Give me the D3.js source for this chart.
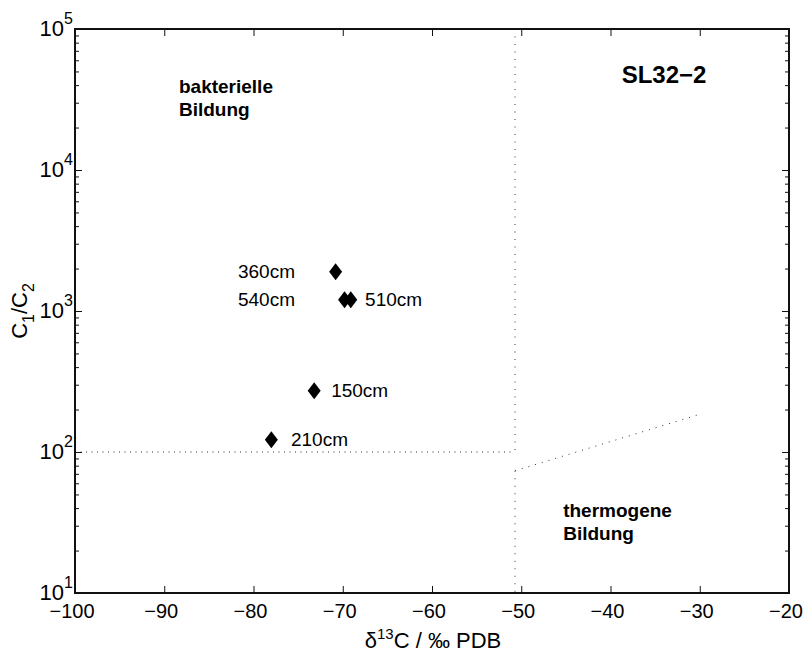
<!DOCTYPE html>
<html>
<head>
<meta charset="utf-8">
<script src="https://cdn.jsdelivr.net/npm/d3@7"></script>
<style>
  html, body { margin: 0; padding: 0; background: #fff; }
  svg { display: block; font-family: "Liberation Sans", Arial, Helvetica, sans-serif; }
</style>
</head>
<body>
<svg id="chart" width="803" height="652"></svg>
<script>
// ---- data ----
const xTickValues = [-100, -90, -80, -70, -60, -50, -40, -30, -20];
const yTickExponents = [1, 2, 3, 4, 5];
const depthLabels = ["360cm", "540cm", "510cm", "150cm", "210cm"];
const delta13C = [-70.8, -69.8, -69.1, -73.2, -78.0];
const c1c2Ratio = [1900, 1200, 1200, 272, 122];
const labelXValues = [-75.35, -75.35, -67.5, -71.3, -75.8];
const labelAnchors = ["end", "end", "start", "start", "start"];
// boundary lines (data coords)
const boundaryLines = [
  [[-50.7, 1e5], [-50.7, 100]],
  [[-100, 100], [-50.7, 100]],
  [[-50.7, 73.6], [-50.7, 10]],
  [[-50.7, 73.6], [-29.9, 186]]
];
const regionTexts = [
  { lines: ["bakterielle", "Bildung"], x: -88.35, y: 35000, size: 19 },
  { lines: ["thermogene", "Bildung"], x: -45.3, y: 34.8, size: 19 },
  { lines: ["SL32\u22122"], x: -38.75, y: 41200, size: 24 }
];

(function () {
// ---- layout ----
const svg = d3.select("#chart");
const mLeft = 75, mRight = 789, mTop = 29, mBottom = 593;
const x = d3.scaleLinear().domain([-100, -20]).range([mLeft, mRight]);
const y = d3.scaleLog().domain([10, 1e5]).range([mBottom, mTop]);

// dotted boundary lines
const lineGen = d3.line().x(d => x(d[0])).y(d => y(d[1]));
svg.append("g").selectAll("path").data(boundaryLines).join("path")
  .attr("d", lineGen)
  .attr("fill", "none")
  .attr("stroke", "#333")
  .attr("stroke-width", 1)
  .attr("stroke-dasharray", (d, i) => i === 1 ? "1,4.5" : (i === 3 ? "1,6" : "1,6.5"));

// axes (ticks inward, box)
const axisColor = "#111";
const minorTicks = [];
yTickExponents.slice(0, -1).forEach(e => {
  for (let k = 2; k <= 9; k++) minorTicks.push(k * Math.pow(10, e));
});
const majorY = yTickExponents.map(e => Math.pow(10, e));

const gAx = svg.append("g");
function styleAxis(g) {
  g.select(".domain").remove();
  g.selectAll(".tick line").attr("stroke", axisColor).attr("stroke-width", 1);
  g.selectAll(".tick text").remove();
}
gAx.append("g").attr("transform", `translate(0,${mBottom})`)
  .call(d3.axisTop(x).tickValues(xTickValues).tickSize(7)).call(styleAxis);
gAx.append("g").attr("transform", `translate(0,${mTop})`)
  .call(d3.axisBottom(x).tickValues(xTickValues).tickSize(7)).call(styleAxis);
gAx.append("g").attr("transform", `translate(${mLeft},0)`)
  .call(d3.axisRight(y).tickValues(majorY).tickSize(7)).call(styleAxis);
gAx.append("g").attr("transform", `translate(${mLeft},0)`)
  .call(d3.axisRight(y).tickValues(minorTicks).tickSize(4)).call(styleAxis);
gAx.append("g").attr("transform", `translate(${mRight},0)`)
  .call(d3.axisLeft(y).tickValues(majorY).tickSize(7)).call(styleAxis);
gAx.append("g").attr("transform", `translate(${mRight},0)`)
  .call(d3.axisLeft(y).tickValues(minorTicks).tickSize(4)).call(styleAxis);

svg.append("rect")
  .attr("x", mLeft).attr("y", mTop)
  .attr("width", mRight - mLeft).attr("height", mBottom - mTop)
  .attr("fill", "none").attr("stroke", axisColor).attr("stroke-width", 2);

// x tick labels
svg.append("g").selectAll("text").data(xTickValues).join("text")
  .attr("x", d => x(d) - 3)
  .attr("y", mBottom + 25)
  .attr("text-anchor", "middle")
  .attr("font-size", 20)
  .attr("fill", "#000")
  .text(d => d < 0 ? "\u2212" + Math.abs(d) : d);

// y tick labels 10^n
const yl = svg.append("g").selectAll("text").data(yTickExponents).join("text")
  .attr("x", mLeft - 2)
  .attr("y", d => y(Math.pow(10, d)) + 7)
  .attr("text-anchor", "end")
  .attr("font-size", 22)
  .attr("fill", "#000");
yl.append("tspan").text("10");
yl.append("tspan").attr("dy", -12).attr("font-size", 16).text(d => d);

// axis titles
const xt = svg.append("text")
  .attr("x", (mLeft + mRight) / 2 + 1)
  .attr("y", 648)
  .attr("text-anchor", "middle")
  .attr("font-size", 22)
  .attr("fill", "#000");
xt.append("tspan").text("\u03B4");
xt.append("tspan").attr("dy", -9).attr("font-size", 15).text("13");
xt.append("tspan").attr("dy", 9).text("C / \u2030 PDB");

const yt = svg.append("text")
  .attr("transform", `translate(27,${(mTop + mBottom) / 2}) rotate(-90)`)
  .attr("text-anchor", "middle")
  .attr("font-size", 22)
  .attr("fill", "#000");
yt.append("tspan").text("C");
yt.append("tspan").attr("dy", 7).attr("font-size", 16).text("1");
yt.append("tspan").attr("dy", -7).text("/C");
yt.append("tspan").attr("dy", 7).attr("font-size", 16).text("2");

// data points (diamonds)
const pts = depthLabels.map((lab, i) => ({ lab, x: delta13C[i], y: c1c2Ratio[i], lx: labelXValues[i], anchor: labelAnchors[i] }));
const diamond = "M0,-8.5L6.5,0L0,8.5L-6.5,0Z";
svg.append("g").selectAll("path").data(pts).join("path")
  .attr("transform", d => `translate(${x(d.x)},${y(d.y)})`)
  .attr("d", diamond)
  .attr("fill", "#000");

svg.append("g").selectAll("text").data(pts).join("text")
  .attr("x", d => x(d.lx))
  .attr("y", d => y(d.y) + 6)
  .attr("text-anchor", d => d.anchor)
  .attr("font-size", 19)
  .attr("fill", "#000")
  .text(d => d.lab);

// region annotations
regionTexts.forEach(r => {
  const t = svg.append("text")
    .attr("x", x(r.x))
    .attr("y", y(r.y))
    .attr("font-size", r.size)
    .attr("font-weight", "bold")
    .attr("fill", "#000");
  r.lines.forEach((ln, i) => {
    t.append("tspan").attr("x", x(r.x)).attr("dy", i === 0 ? 0 : 23).text(ln);
  });
});
})();
</script>
</body>
</html>
